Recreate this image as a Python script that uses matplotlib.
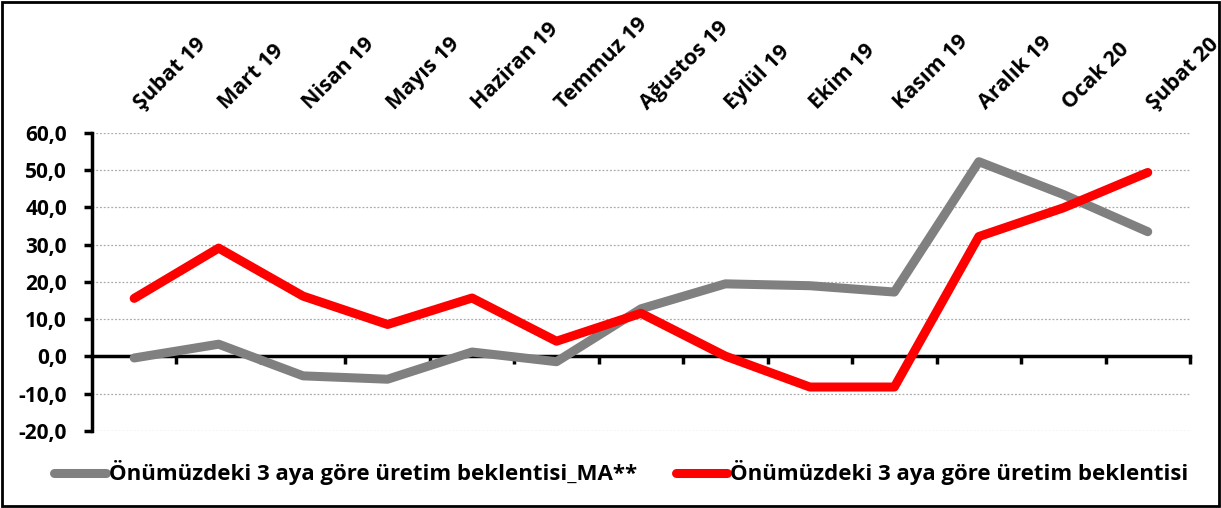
import matplotlib.pyplot as plt
from matplotlib.ticker import FuncFormatter
from matplotlib.patches import Rectangle
from matplotlib.transforms import blended_transform_factory, offset_copy

plt.rcParams['font.family'] = ['Open Sans', 'DejaVu Sans']
plt.rcParams['font.weight'] = 'bold'

months = ['Şubat 19', 'Mart 19', 'Nisan 19', 'Mayıs 19', 'Haziran 19', 'Temmuz 19',
          'Ağustos 19', 'Eylül 19', 'Ekim 19', 'Kasım 19', 'Aralık 19', 'Ocak 20', 'Şubat 20']
ma_values = [-0.4, 3.3, -5.2, -6.1, 1.2, -1.4, 12.8, 19.5, 19.0, 17.3, 52.3, 43.5, 33.5]
raw_values = [15.6, 29.1, 16.2, 8.6, 15.7, 4.1, 11.6, 0.1, -8.2, -8.2, 32.2, 39.9, 49.4]
ma_label = 'Önümüzdeki 3 aya göre üretim beklentisi_MA**'
raw_label = 'Önümüzdeki 3 aya göre üretim beklentisi'

fig = plt.figure(figsize=(12.21, 5.08), dpi=100)
ax = fig.add_axes([0.0753, 0.1516, 0.8993, 0.5866])

x = range(len(months))
ax.plot(x, ma_values, color='#808080', lw=6.5, solid_capstyle='round', label=ma_label, zorder=3)
ax.plot(x, raw_values, color='#ff0000', lw=6.5, solid_capstyle='round', label=raw_label, zorder=4)

ax.set_xlim(-0.5, len(months) - 0.5)
ax.set_ylim(-20, 60)
ax.set_yticks(range(-20, 61, 10))
ax.yaxis.set_major_formatter(FuncFormatter(lambda v, p: f'{v:.1f}'.replace('.', ',')))
ax.grid(axis='y', color='#aaaaaa', linestyle=(0, (1.5, 1.5)), lw=0.9)

# bottom spine acts as zero line with ticks at category boundaries
ax.spines['bottom'].set_position(('data', 0))
ax.spines['bottom'].set_linewidth(2.5)
ax.spines['left'].set_linewidth(2.5)
ax.spines['top'].set_visible(False)
ax.spines['right'].set_visible(False)
ax.set_xticks([i + 0.5 for i in x])
ax.xaxis.set_ticklabels([])
ax.tick_params(axis='x', direction='out', length=6, width=2.5)
ax.tick_params(axis='y', direction='out', length=6, width=2.5, labelsize=15, pad=12)

# month labels above the plot, rotated like the original
trans = offset_copy(blended_transform_factory(ax.transData, ax.transAxes),
                    fig=fig, x=7, y=23, units='dots')
for i, m in zip(x, months):
    ax.text(i, 1.0, m, transform=trans, rotation=45, rotation_mode='anchor',
            ha='left', va='baseline', fontsize=15.5, fontweight='bold', clip_on=False)

fig.legend(loc='center', bbox_to_anchor=(0.509, 0.069), ncol=2, frameon=False,
           fontsize=16, handlelength=2.3, handletextpad=0.15, columnspacing=1.75)

fig.patches.append(Rectangle((0.002, 0.003), 0.996, 0.994, transform=fig.transFigure,
                             fill=False, edgecolor='black', lw=2))

fig.savefig('out.png', dpi=100)
